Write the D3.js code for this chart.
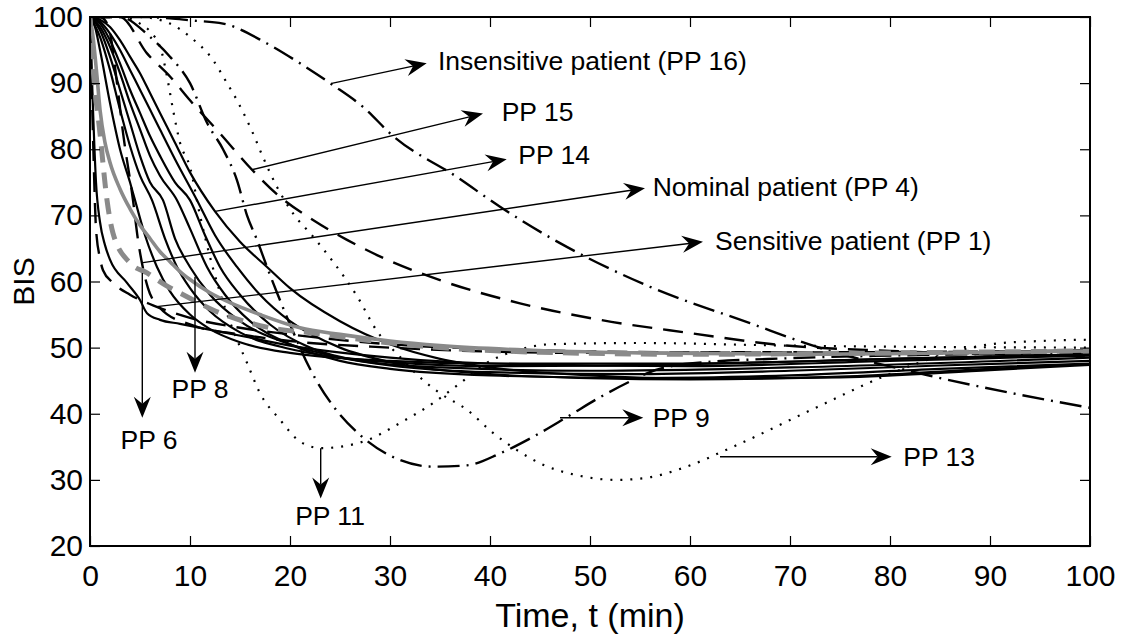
<!DOCTYPE html>
<html>
<head>
<meta charset="utf-8">
<script src="https://cdn.jsdelivr.net/npm/d3@7"></script>
<style>
  body { margin: 0; background: #fff; }
  svg text { font-family: "Liberation Sans", Arial, Helvetica, sans-serif; fill: #000; }
</style>
</head>
<body>
<svg id="chart" width="1128" height="639"></svg>
<script>
// Axis ticks
const xTicks = [0, 10, 20, 30, 40, 50, 60, 70, 80, 90, 100];
const yTicks = [20, 30, 40, 50, 60, 70, 80, 90, 100];

// BIS responses, [time (min), BIS]
const pp1 = [[0,100],[0.3,82],[0.6,68],[1,63.5],[1.3,61.7],[2.3,59.8],[4,58],[6.3,56.4],[10,54.5],[15,53],[20,52],[30,50.5],[40,49.8],[60,49.3],[80,49.3],[100,49.6]];
const pp2 = [[0,100],[0.5,98.5],[1,95],[2,87],[3,80],[4,75],[4.5,72.3],[5.5,67],[6.7,62.2],[8,58.5],[10,55],[12,52.8],[15,50.8],[20,49.2],[30,48],[40,47.6],[60,47.6],[80,48.3],[100,49]];
const pp3 = [[0,100],[1,97],[2,92],[3,86],[4,80.5],[5,76],[6.2,72.3],[7.5,66.5],[8.7,62.2],[10,59],[12,55.5],[15,52.3],[20,49.8],[25,48.5],[30,47.8],[40,47.2],[60,47.5],[80,48.3],[100,49]];
const pp4 = [[0,100],[0.3,92.5],[1,82.4],[1.7,72.3],[2.3,67.3],[4,62.8],[5.7,61.3],[7.5,59.5],[9.7,57.7],[12.3,55.7],[17.7,53.1],[22.3,52.2],[25.7,51.5],[32,50.4],[36,49.9],[45,49.3],[60,49],[80,49.2],[100,49.5]];
const pp5 = [[0,100],[1,99],[2,96.5],[3,93],[4,89],[5,85.5],[6,82],[7,79],[8.5,75],[10,72.3],[11.5,67],[13,62.2],[15,58],[18,53.5],[22,50],[27,48],[35,47],[50,46.5],[70,47],[100,48.5]];
const pp6 = [[0,100],[0.3,86],[0.6,75],[1,69],[1.5,65.5],[2,63.3],[3.7,59.8],[5,57.2],[5.7,55.2],[7,54.2],[9,53.6],[15.7,51.6],[20,50.3],[30,48.5],[40,47.6],[60,47.2],[80,48],[100,48.8]];
const pp7 = [[0,100],[1,98.5],[2,95.5],[3,91.5],[4,87],[5,83],[6,79],[7,76],[8.7,72.3],[10,68],[11.7,62.2],[13.5,58],[16,54],[20,50.5],[25,48],[30,46.8],[40,45.8],[55,45.4],[70,45.8],[85,46.8],[100,47.6]];
const pp8 = [[0,100],[1,98],[2,94],[3,89],[4,84],[5,79],[6,75],[7.3,72.3],[8.5,66.5],[10,62.2],[12,58],[15,54],[20,50.5],[25,48.5],[30,47.3],[40,46.3],[55,46],[70,46.5],[85,47.3],[100,48]];
const pp9 = [[0,100],[3,100],[6,97],[8,94],[10,90],[11.7,84],[13.3,80],[14.7,75.3],[15.7,70],[16.7,66.3],[17.7,62.2],[18.7,58.3],[20,53.5],[22,46.8],[24.5,40.8],[27,36.8],[31,33],[34.3,32],[37.7,32.2],[41,34],[44.3,36.5],[47.7,39.5],[51,42.5],[54.3,45.1],[56,46.3],[60,47.6],[70,48.4],[80,48.8],[100,49.2]];
const pp10 = [[0,100],[1,99.3],[2,97.5],[3,95],[4,92],[5,89],[6,86],[7,83],[8.5,78.5],[10.7,72.3],[12.5,67],[14.7,62.2],[17,58],[20,54],[25,50],[30,47.8],[40,46],[50,45.4],[60,45.2],[75,45.6],[90,46.8],[100,47.5]];
const pp11 = [[0,100],[3,100],[5,99],[7,95.5],[7.7,91],[8.3,86],[9,81],[10,77.3],[11,70],[12.3,62],[13.5,56],[14.7,51.2],[15.7,47.7],[17,43.1],[19,39.1],[21,35.8],[23.1,34.8],[25,35],[27.7,36],[31,38.6],[34.3,41.6],[37,44.6],[39.7,47.7],[42.7,49.6],[46,50.5],[55,50.7],[70,50.3],[100,50]];
const pp12 = [[0,100],[1,100],[1.5,99.5],[2,97.6],[2.7,90],[3.3,82.5],[4.3,72.3],[4.8,66.3],[5.3,62],[5.8,59],[7,56],[10,53.5],[15,52],[20,51],[30,50],[50,49.2],[100,49.5]];
const pp13 = [[0,100],[5,100],[8,99],[10,97],[12.3,93.5],[13.7,90],[14.7,87.4],[16.3,82.4],[17.3,78.8],[18.7,74.3],[20.3,70.3],[22.3,66.8],[24.3,63],[26.7,57.8],[28.7,52.5],[31,48.6],[33.3,45.1],[35,43.1],[37.7,40.6],[40.3,37.1],[42.7,34.5],[45.3,32.3],[48.7,30.7],[52.7,30],[56,30.4],[59.3,31.8],[64.3,35],[72.7,41],[79.3,45.6],[86,49.2],[90,50.5],[95,51],[100,51.2]];
const pp14 = [[0,100],[1,99.6],[2,98.5],[3,96.5],[4,94],[5,91.5],[6,88.5],[7,85.5],[8.5,81],[10,76.5],[12.5,70.6],[15,66],[17.7,62.2],[20,59],[25,54],[30,50.5],[35,48.3],[40,47],[50,45.8],[60,45.3],[75,45.5],[90,46.6],[100,47.4]];
const pp15 = [[0,100],[3,100],[5.7,94.5],[8,91],[10,87.4],[13,82.4],[16.2,76.9],[19,72.8],[22.3,69.3],[25.7,66.3],[28.7,64],[35,60.2],[43,56.7],[51,54.2],[60,52.2],[69,50.4],[80,49.5],[90,49],[100,48.8]];
const pp16 = [[0,100],[5,100],[8,99.8],[10,99.5],[13.3,99],[17.7,96],[21,93],[24.3,89.7],[27.3,86.4],[30.3,82],[36.7,75.8],[41,71.3],[47,65.8],[56,59.2],[66,53.7],[72.7,50.1],[82.7,46.2],[89.3,44],[100,40.9]];
const ppNominal = [[0,100],[0.3,97],[0.7,91],[1,86],[1.5,81],[2,78],[3,74],[4,71],[5,68.5],[6,66.5],[7,64.5],[8,63],[9,61.5],[10,60.3],[12,58.3],[14,56.8],[17,55],[21,53],[25,52],[30,51],[35,50.3],[44,49.6],[55,49.2],[70,49],[100,49.5]];

// Line styles
const black = "#000", gray = "#8a8a8a";
const dashed = "20,11", dashDot = "22,7,2,7", dotted = "2,8";
const series = [
  { data: pp15, color: black, width: 2.4, dash: dashed },
  { data: pp16, color: black, width: 2.4, dash: dashDot },
  { data: pp13, color: black, width: 2.2, dash: dotted },
  { data: pp11, color: black, width: 2.2, dash: dotted },
  { data: pp9,  color: black, width: 2.4, dash: dashDot },
  { data: pp12, color: black, width: 2.4, dash: dashed },
  { data: pp1,  color: black, width: 2.4, dash: dashed },
  { data: pp2,  color: black, width: 2.2, dash: null },
  { data: pp3,  color: black, width: 2.2, dash: null },
  { data: pp5,  color: black, width: 2.2, dash: null },
  { data: pp6,  color: black, width: 2.2, dash: null },
  { data: pp7,  color: black, width: 2.2, dash: null },
  { data: pp8,  color: black, width: 2.2, dash: null },
  { data: pp10, color: black, width: 2.2, dash: null },
  { data: pp14, color: black, width: 2.2, dash: null },
  { data: ppNominal, color: gray, width: 3.6, dash: null },
  { data: pp4,  color: gray, width: 5, dash: "16,10" }
];

// Annotations: arrow from a point on a curve to the label
const notes = [
  { text: "Insensitive patient (PP 16)", from: [24.17, 89.97], to: [33.67, 93.0], anchor: "start", at: [34.8, 93.35] },
  { text: "PP 15", from: [16.17, 76.9], to: [39.3, 85.4], anchor: "start", at: [41.17, 85.6] },
  { text: "PP 14", from: [12.5, 70.6], to: [41.67, 78.5], anchor: "start", at: [42.83, 79.1] },
  { text: "Nominal patient (PP 4)", from: [5.3, 62.85], to: [55.5, 74.1], anchor: "start", at: [56.27, 74.3] },
  { text: "Sensitive patient (PP 1)", from: [6.67, 56.2], to: [61.3, 66.0], anchor: "start", at: [62.5, 66.2] },
  { text: "PP 6", from: [5.23, 61.3], to: [5.23, 39.4], anchor: "middle", at: [5.9, 36.0] },
  { text: "PP 8", from: [10.5, 60.7], to: [10.5, 46.2], anchor: "middle", at: [11.0, 43.8] },
  { text: "PP 11", from: [23.07, 34.8], to: [23.07, 27.2], anchor: "middle", at: [24.0, 24.55] },
  { text: "PP 9", from: [47.0, 39.4], to: [55.33, 39.4], anchor: "start", at: [56.27, 39.4] },
  { text: "PP 13", from: [63.0, 33.5], to: [80.17, 33.5], anchor: "start", at: [81.33, 33.5] }
];

const W = 1128, H = 639;
const margin = { left: 90, right: 38, top: 17, bottom: 93 };
const svg = d3.select("#chart");
const x = d3.scaleLinear().domain([0, 100]).range([margin.left, W - margin.right]);
const y = d3.scaleLinear().domain([20, 100]).range([H - margin.bottom, margin.top]);

svg.append("defs").append("clipPath").attr("id", "plot-clip")
  .append("rect")
  .attr("x", x(0)).attr("y", y(100))
  .attr("width", x(100) - x(0)).attr("height", y(20) - y(100));

const line = d3.line()
  .x(d => x(d[0]))
  .y(d => y(d[1]))
  .curve(d3.curveMonotoneX);

const curves = svg.append("g").attr("clip-path", "url(#plot-clip)");
series.forEach(s => {
  curves.append("path")
    .attr("d", line(s.data))
    .attr("fill", "none")
    .attr("stroke", s.color)
    .attr("stroke-width", s.width)
    .attr("stroke-dasharray", s.dash)
    .attr("stroke-linejoin", "round");
});

// Annotation arrows
const ann = svg.append("g");
notes.forEach(n => {
  const x0 = x(n.from[0]), y0 = y(n.from[1]);
  const x1 = x(n.to[0]), y1 = y(n.to[1]);
  const len = Math.hypot(x1 - x0, y1 - y0);
  const ux = (x1 - x0) / len, uy = (y1 - y0) / len;
  const nx = -uy, ny = ux;
  const L = 21, Wd = 8.5, notch = 7;
  ann.append("line")
    .attr("x1", x0).attr("y1", y0)
    .attr("x2", x1 - ux * (L - notch)).attr("y2", y1 - uy * (L - notch))
    .attr("stroke", "#000").attr("stroke-width", 1.4);
  const pts = [
    [x1, y1],
    [x1 - ux * L + nx * Wd, y1 - uy * L + ny * Wd],
    [x1 - ux * (L - notch), y1 - uy * (L - notch)],
    [x1 - ux * L - nx * Wd, y1 - uy * L - ny * Wd]
  ];
  ann.append("path").attr("d", "M" + pts.map(p => p.join(",")).join("L") + "Z").attr("fill", "#000");
  ann.append("text")
    .attr("x", x(n.at[0])).attr("y", y(n.at[1]))
    .attr("dy", "0.35em")
    .attr("text-anchor", n.anchor)
    .style("font-size", "26.5px")
    .text(n.text);
});

// Axes with inward ticks on all four sides
const tickLen = 10;
const gx = svg.append("g").attr("transform", `translate(0,${y(20)})`)
  .call(d3.axisBottom(x).tickValues(xTicks).tickSize(-tickLen).tickPadding(19));
const gy = svg.append("g").attr("transform", `translate(${x(0)},0)`)
  .call(d3.axisLeft(y).tickValues(yTicks).tickSize(-tickLen).tickPadding(7));
const gt = svg.append("g").attr("transform", `translate(0,${y(100)})`)
  .call(d3.axisTop(x).tickValues(xTicks).tickSize(-tickLen).tickFormat(""));
const gr = svg.append("g").attr("transform", `translate(${x(100)},0)`)
  .call(d3.axisRight(y).tickValues(yTicks).tickSize(-tickLen).tickFormat(""));
[gx, gy, gt, gr].forEach(g => {
  g.select(".domain").remove();
  g.selectAll(".tick line").attr("stroke", "#000").attr("stroke-width", 1.2);
  g.selectAll(".tick text").style("font-size", "30px").style("font-family", "'Liberation Sans', Arial, sans-serif").attr("fill", "#000");
});

// Plot frame
svg.append("rect")
  .attr("x", x(0)).attr("y", y(100))
  .attr("width", x(100) - x(0)).attr("height", y(20) - y(100))
  .attr("fill", "none").attr("stroke", "#000").attr("stroke-width", 2);

// Axis titles
svg.append("text")
  .attr("x", (x(0) + x(100)) / 2).attr("y", 627)
  .attr("text-anchor", "middle")
  .style("font-size", "34px")
  .text("Time, t (min)");
svg.append("text")
  .attr("transform", `translate(34,${(y(20) + y(100)) / 2}) rotate(-90)`)
  .attr("text-anchor", "middle")
  .style("font-size", "30px")
  .text("BIS");
</script>
</body>
</html>
